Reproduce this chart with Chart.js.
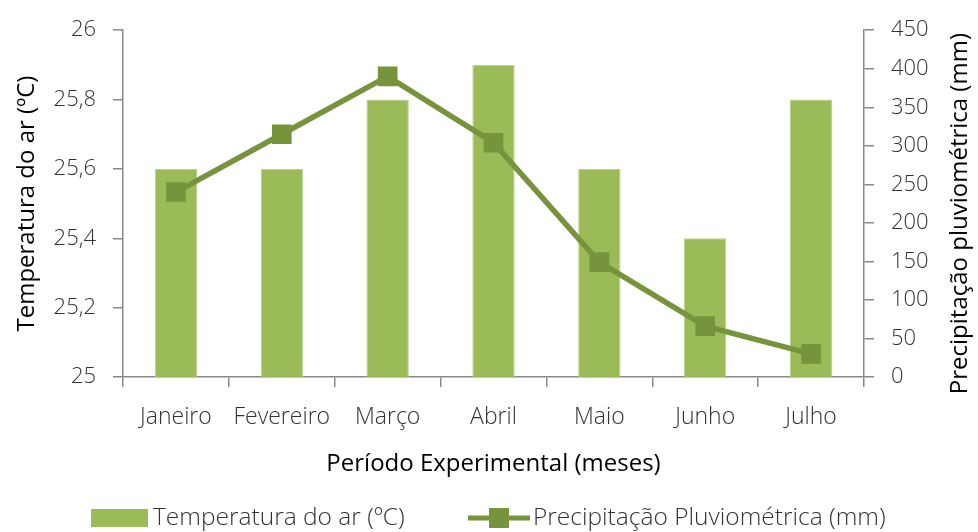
<!DOCTYPE html>
<html>
<head>
<meta charset="utf-8">
<script src="https://cdn.jsdelivr.net/npm/chart.js@4/dist/chart.umd.min.js"></script>
<style>
  html, body { margin: 0; padding: 0; background: #fff; }
  #wrap { width: 978px; height: 532px; }
</style>
</head>
<body>
<div id="wrap"><canvas id="chart"></canvas></div>
<script>
const months = ['Janeiro', 'Fevereiro', 'Março', 'Abril', 'Maio', 'Junho', 'Julho'];
const temperatura = [25.6, 25.6, 25.8, 25.9, 25.6, 25.4, 25.8];
const precipitacao = [240, 315, 390, 304, 149, 66, 30];

const barColor = '#9BBB59';
const lineColor = '#77933C';
const axisColor = '#898989';
const tickColor = '#333333';
const font = 'Open Sans';

// legend + right axis title drawn by hand (Excel style)
const extras = {
  id: 'extras',
  afterDraw(chart) {
    const ctx = chart.ctx;
    const bars = chart.data.datasets.find(d => d.type === 'bar');
    const line = chart.data.datasets.find(d => d.type === 'line');
    const y = 518;
    ctx.save();
    ctx.font = '300 24.5px "' + font + '"';
    ctx.textBaseline = 'middle';

    ctx.fillStyle = barColor;
    ctx.fillRect(91, y - 9, 57, 18);
    ctx.fillStyle = tickColor;
    ctx.fillText(bars.label, 153, y);

    ctx.strokeStyle = lineColor;
    ctx.lineWidth = 5;
    ctx.beginPath();
    ctx.moveTo(468, y);
    ctx.lineTo(530, y);
    ctx.stroke();
    ctx.fillStyle = lineColor;
    ctx.fillRect(489, y - 10, 20, 20);
    ctx.fillStyle = tickColor;
    ctx.fillText(line.label, 533, y);

    // right axis title, reading bottom to top
    const area = chart.chartArea;
    ctx.translate(960, (area.top + area.bottom) / 2 + 10);
    ctx.rotate(-Math.PI / 2);
    ctx.textAlign = 'center';
    ctx.font = '400 24px "' + font + '"';
    ctx.fillStyle = '#000';
    ctx.fillText('Precipitação pluviométrica (mm)', 0, 0);
    ctx.restore();
  }
};

new Chart(document.getElementById('chart'), {
  data: {
    labels: months,
    datasets: [
      {
        type: 'line',
        label: 'Precipitação Pluviométrica (mm)',
        data: precipitacao,
        yAxisID: 'y1',
        borderColor: lineColor,
        backgroundColor: lineColor,
        borderWidth: 5.5,
        pointStyle: 'rect',
        pointRadius: 10,
        pointHoverRadius: 10,
        tension: 0,
        order: 0
      },
      {
        type: 'bar',
        label: 'Temperatura do ar (ºC)',
        data: temperatura,
        yAxisID: 'y',
        backgroundColor: barColor,
        borderColor: '#B9D08A',
        borderWidth: 1,
        barPercentage: 0.4,
        categoryPercentage: 1,
        order: 1
      }
    ]
  },
  plugins: [extras],
  options: {
    responsive: true,
    maintainAspectRatio: false,
    animation: false,
    layout: { padding: { top: 29, bottom: 52, left: 0, right: 0 } },
    plugins: {
      legend: { display: false },
      tooltip: { enabled: false }
    },
    scales: {
      x: {
        grid: { drawOnChartArea: false, color: axisColor, lineWidth: 1.5, tickLength: 10, offset: true },
        border: { color: axisColor, width: 1.5 },
        ticks: { color: tickColor, font: { family: font, size: 23, weight: 300 }, padding: 17, maxRotation: 0, minRotation: 0, autoSkip: false },
        title: { display: true, text: 'Período Experimental (meses)', color: '#000', font: { family: font, size: 24, weight: 400 }, padding: { top: 6, bottom: 1 } },
        afterFit(scale) { scale.height = 103; }
      },
      y: {
        position: 'left',
        min: 25,
        max: 26,
        grid: { drawOnChartArea: false, color: axisColor, lineWidth: 1.5, tickLength: 10 },
        border: { color: axisColor, width: 1.5 },
        ticks: {
          stepSize: 0.2,
          color: tickColor,
          font: { family: font, size: 22, weight: 300 },
          padding: 17,
          callback: v => String(Math.round(v * 10) / 10).replace('.', ',')
        },
        title: { display: true, text: 'Temperatura do ar (ºC)', color: '#000', font: { family: font, size: 24, weight: 400 }, padding: { top: 13, bottom: 0 } },
        afterFit(scale) { scale.width = 123; }
      },
      y1: {
        position: 'right',
        min: 0,
        max: 450,
        grid: { drawOnChartArea: false, color: axisColor, lineWidth: 1.5, tickLength: 10 },
        border: { color: axisColor, width: 1.5 },
        ticks: { stepSize: 50, color: tickColor, font: { family: font, size: 22, weight: 300 }, padding: 17 },
        afterFit(scale) { scale.width = 114; }
      }
    }
  }
});
</script>
</body>
</html>
